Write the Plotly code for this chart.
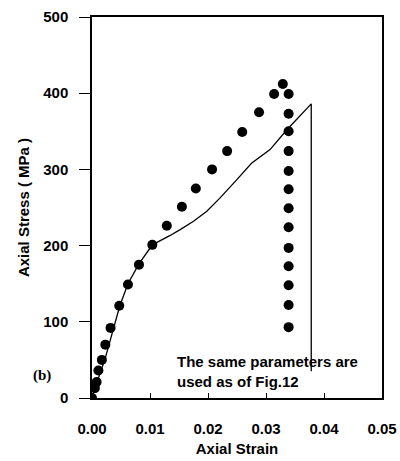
import plotly.graph_objects as go

# Experimental data (dots)
exp_strain = [0.0, 0.0005, 0.0008, 0.0011, 0.0017, 0.0023, 0.0032, 0.0047, 0.0062, 0.0081,
              0.0104, 0.0129, 0.0155, 0.0179, 0.0207, 0.0233, 0.0259, 0.0288, 0.0314, 0.0329,
              0.0339, 0.0339, 0.0339, 0.0339, 0.0339, 0.0339, 0.0339, 0.0339, 0.0339, 0.0339,
              0.0339, 0.0339, 0.0339]
exp_stress = [0, 13, 21, 36, 50, 70, 92, 121, 149, 175,
              201, 226, 251, 275, 300, 324, 349, 375, 399, 412,
              399, 373, 350, 324, 298, 274, 249, 224, 197, 173,
              148, 122, 93]

# Simulated curve (line)
sim_strain = [0.0, 0.0005, 0.0022, 0.0037, 0.0048, 0.0062, 0.0081, 0.0104, 0.0117, 0.0134,
              0.0152, 0.0175, 0.0198, 0.0220, 0.0249, 0.0275, 0.0307, 0.0336, 0.0378, 0.0378]
sim_stress = [0, 13, 50, 92, 121, 150, 176, 201, 206, 213,
              221, 232, 245, 262, 286, 308, 326, 352, 386, 35]

x_ticks = [0.00, 0.01, 0.02, 0.03, 0.04, 0.05]
x_ticktext = ["0.00", "0.01", "0.02", "0.03", "0.04", "0.05"]
y_ticks = [0, 100, 200, 300, 400, 500]

FONT = "Liberation Sans, Arial, sans-serif"

fig = go.Figure()
fig.add_trace(go.Scatter(x=sim_strain, y=sim_stress, mode="lines",
                         line=dict(color="black", width=1.3), showlegend=False))
fig.add_trace(go.Scatter(x=exp_strain, y=exp_stress, mode="markers",
                         marker=dict(color="black", size=10), showlegend=False))

fig.add_annotation(x=0.0143, y=35, xref="x", yref="y", xanchor="left", yanchor="middle",
                   align="left", showarrow=False,
                   text="The same parameters are<br>used as of Fig.12",
                   font=dict(family=FONT, size=15, color="black", weight="bold"))
fig.add_annotation(x=-0.172, y=0.06, xref="paper", yref="paper", xanchor="center", yanchor="middle",
                   showarrow=False, text="(b)",
                   font=dict(family="Liberation Serif, Times New Roman, serif", size=15,
                             color="black", weight="bold"))

fig.update_layout(
    width=400, height=461,
    margin=dict(l=92, r=18, t=17, b=63),
    paper_bgcolor="white", plot_bgcolor="white",
    font=dict(family=FONT, size=15, color="black"),
    xaxis=dict(range=[0, 0.05], tickvals=x_ticks, ticktext=x_ticktext, automargin=False,
               ticks="inside", ticklen=5, tickwidth=1.3, tickcolor="black",
               showline=True, linecolor="black", linewidth=1.5, mirror=True,
               showgrid=False, zeroline=False, ticklabelstandoff=16,
               tickfont=dict(family=FONT, size=15, weight="bold"),
               title=dict(text="Axial Strain", standoff=8,
                          font=dict(family=FONT, size=15, weight="bold"))),
    yaxis=dict(range=[0, 500], tickvals=y_ticks, automargin=False,
               ticks="outside", ticklen=11, tickwidth=1.3, tickcolor="black",
               showline=True, linecolor="black", linewidth=1.5, mirror=True,
               showgrid=False, zeroline=False, ticklabelstandoff=8,
               tickfont=dict(family=FONT, size=15, weight="bold"),
               title=dict(text="Axial Stress ( MPa )", standoff=10,
                          font=dict(family=FONT, size=15, weight="bold"))),
)

fig.write_html("out.html")
